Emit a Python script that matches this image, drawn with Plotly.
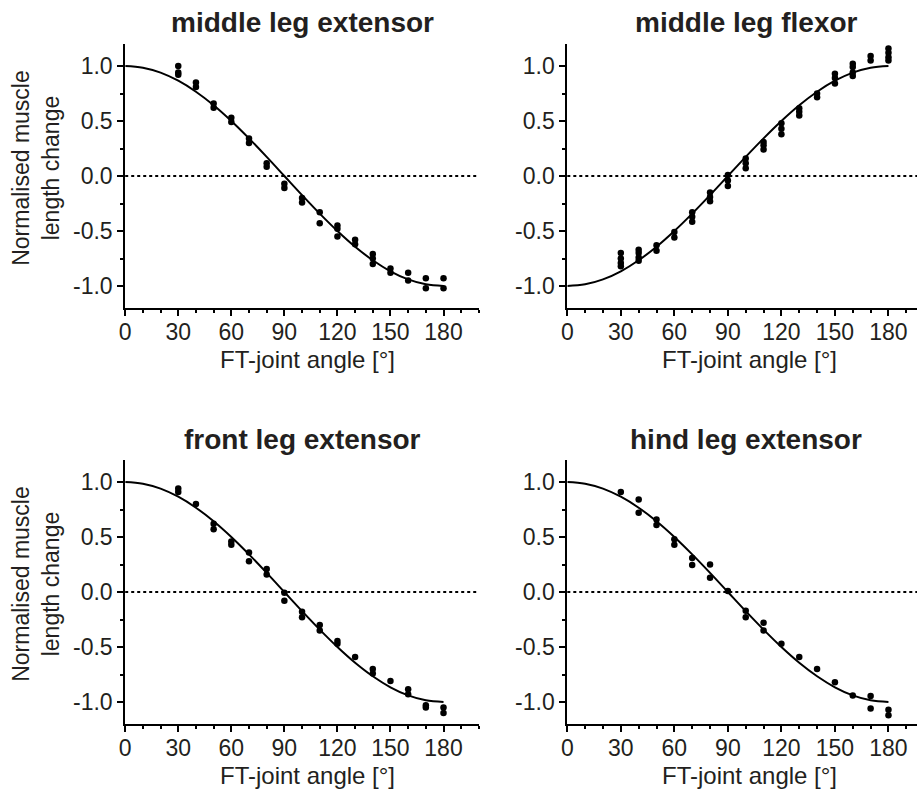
import plotly.graph_objects as go

# ---------------- data ----------------
fit_angles = [0, 10, 20, 30, 40, 50, 60, 70, 80, 90, 100, 110, 120, 130, 140, 150, 160, 170, 180]
fit_extensor = [1.0, 0.985, 0.94, 0.866, 0.766, 0.643, 0.5, 0.342, 0.174, 0.0,
                -0.174, -0.342, -0.5, -0.643, -0.766, -0.866, -0.94, -0.985, -1.0]
fit_flexor = [-1.0, -0.985, -0.94, -0.866, -0.766, -0.643, -0.5, -0.342, -0.174, 0.0,
              0.174, 0.342, 0.5, 0.643, 0.766, 0.866, 0.94, 0.985, 1.0]

mid_ext_x = [30, 30, 30, 40, 40, 50, 50, 60, 60, 70, 70, 80, 80, 90, 90, 100, 100, 110, 110,
             120, 120, 120, 130, 130, 140, 140, 140, 150, 150, 160, 160, 170, 170, 180, 180]
mid_ext_y = [1.00, 0.94, 0.92, 0.85, 0.81, 0.66, 0.62, 0.53, 0.49, 0.34, 0.30, 0.115, 0.085,
             -0.07, -0.11, -0.20, -0.24, -0.33, -0.43, -0.45, -0.48, -0.55, -0.58, -0.62,
             -0.71, -0.75, -0.80, -0.84, -0.88, -0.88, -0.95, -0.93, -1.02, -0.93, -1.02]

mid_flx_x = [30, 30, 30, 30, 40, 40, 40, 40, 50, 50, 60, 60, 70, 70, 70, 80, 80, 80, 90, 90, 90,
             100, 100, 100, 110, 110, 110, 120, 120, 120, 130, 130, 130, 140, 140,
             150, 150, 150, 160, 160, 160, 160, 170, 170, 180, 180, 180, 180]
mid_flx_y = [-0.70, -0.75, -0.79, -0.82, -0.67, -0.70, -0.74, -0.77, -0.63, -0.68, -0.51, -0.56,
             -0.33, -0.37, -0.415, -0.15, -0.19, -0.23, 0.01, -0.04, -0.09,
             0.16, 0.115, 0.07, 0.31, 0.28, 0.24, 0.48, 0.43, 0.38, 0.615, 0.585, 0.55, 0.75, 0.715,
             0.93, 0.89, 0.84, 1.02, 0.99, 0.94, 0.91, 1.09, 1.05, 1.16, 1.12, 1.08, 1.05]

front_ext_x = [30, 30, 40, 50, 50, 60, 60, 70, 70, 80, 80, 90, 90, 100, 100, 110, 110, 120, 120,
               130, 140, 140, 150, 160, 160, 170, 170, 180, 180]
front_ext_y = [0.94, 0.91, 0.80, 0.62, 0.57, 0.46, 0.43, 0.36, 0.28, 0.21, 0.16, -0.006, -0.08,
               -0.18, -0.23, -0.30, -0.35, -0.445, -0.47, -0.59, -0.70, -0.74, -0.81, -0.885, -0.93,
               -1.03, -1.05, -1.05, -1.10]

hind_ext_x = [30, 40, 40, 50, 50, 60, 60, 70, 70, 80, 80, 90, 100, 100, 110, 110, 120, 130, 140,
              150, 160, 170, 170, 180, 180]
hind_ext_y = [0.91, 0.84, 0.72, 0.66, 0.61, 0.48, 0.43, 0.31, 0.245, 0.25, 0.13, 0.01, -0.17, -0.23,
              -0.28, -0.35, -0.47, -0.59, -0.70, -0.82, -0.94, -0.945, -1.06, -1.07, -1.12]

panel_titles = ["middle leg extensor", "middle leg flexor", "front leg extensor", "hind leg extensor"]
x_tick_vals = [0, 30, 60, 90, 120, 150, 180]
x_tick_text = ["0", "30", "60", "90", "120", "150", "180"]
y_tick_vals = [1.0, 0.5, 0.0, -0.5, -1.0]
y_tick_text = ["1.0", "0.5", "0.0", "-0.5", "-1.0"]
x_title = "FT-joint angle [°]"
y_title = "Normalised muscle<br>length change"

# ---------------- layout helpers ----------------
W, H = 917, 789
FONT = "Liberation Sans, Arial, sans-serif"
TXT = "#231f20"

def px_x(p):
    return p / W

def px_y(p):
    return 1 - p / H

panels = [
    dict(x=mid_ext_x, y=mid_ext_y, fit=fit_extensor, xd=[120, 476], yd=[44, 308], xmax=200),
    dict(x=mid_flx_x, y=mid_flx_y, fit=fit_flexor, xd=[565, 917], yd=[44, 308], xmax=196),
    dict(x=front_ext_x, y=front_ext_y, fit=fit_extensor, xd=[120, 476], yd=[460, 724], xmax=200),
    dict(x=hind_ext_x, y=hind_ext_y, fit=fit_extensor, xd=[565, 917], yd=[460, 724], xmax=196),
]

fig = go.Figure()
layout = dict(
    width=W, height=H, margin=dict(l=0, r=0, t=0, b=0),
    paper_bgcolor="white", plot_bgcolor="white", showlegend=False,
    font=dict(family=FONT, color=TXT, size=23),
    shapes=[], annotations=[],
)

for i, p in enumerate(panels):
    n = "" if i == 0 else str(i + 1)
    xa, ya = "x" + n, "y" + n
    fig.add_trace(go.Scatter(x=fit_angles, y=p["fit"], mode="lines", line=dict(color="black", width=2, shape="spline"),
                             xaxis=xa, yaxis=ya, hoverinfo="skip"))
    fig.add_trace(go.Scatter(x=p["x"], y=p["y"], mode="markers", marker=dict(color="black", size=6.5),
                             xaxis=xa, yaxis=ya, cliponaxis=False))
    layout["xaxis" + n] = dict(
        domain=[px_x(p["xd"][0]), px_x(p["xd"][1])], range=[0, p["xmax"]], anchor=ya,
        showgrid=False, zeroline=False, showline=True, linecolor="black", linewidth=2,
        ticks="outside", ticklen=6, tickwidth=2, tickcolor="black",
        tickmode="array", tickvals=x_tick_vals, ticktext=x_tick_text,
        tickfont=dict(size=23, color=TXT, family=FONT), ticklabelstandoff=-4,
        minor=dict(ticks="outside", ticklen=3, tickwidth=2, tickcolor="black",
                   tickmode="array", tickvals=[10, 20, 40, 50, 70, 80, 100, 110, 130, 140, 160, 170, 190, 200]),
        fixedrange=True,
    )
    layout["yaxis" + n] = dict(
        domain=[px_y(p["yd"][1]), px_y(p["yd"][0])], range=[-1.2, 1.2], anchor=xa,
        showgrid=False, zeroline=False, showline=True, linecolor="black", linewidth=2,
        ticks="outside", ticklen=6, tickwidth=2, tickcolor="black",
        tickmode="array", tickvals=y_tick_vals, ticktext=y_tick_text,
        tickfont=dict(size=23, color=TXT, family=FONT),
        minor=dict(ticks="outside", ticklen=3, tickwidth=2, tickcolor="black",
                   tickmode="array", tickvals=[0.75, 0.25, -0.25, -0.75]),
        fixedrange=True,
    )
    layout["shapes"].append(dict(type="line", xref=xa + " domain", yref=ya, x0=0, x1=1, y0=0, y1=0,
                                 line=dict(color="black", width=2, dash="dot"), layer="below"))
    cx = (p["xd"][0] + p["xd"][1] + (0 if p["xmax"] == 200 else 8)) / 2
    layout["annotations"].append(dict(text="<b>" + panel_titles[i] + "</b>", xref="paper", yref="paper",
                                      x=px_x(cx), y=px_y(p["yd"][0] - 21), xanchor="center", yanchor="middle",
                                      showarrow=False, font=dict(size=28, color=TXT, family=FONT)))
    layout["annotations"].append(dict(text=x_title, xref="paper", yref="paper",
                                      x=px_x(p["xd"][0] + 183), y=px_y(p["yd"][1] + 51), xanchor="center", yanchor="middle",
                                      showarrow=False, font=dict(size=24, color=TXT, family=FONT)))
    if p["xd"][0] == 120:
        layout["annotations"].append(dict(text=y_title, xref="paper", yref="paper", textangle=-90,
                                          x=px_x(30), y=px_y(p["yd"][0] + 124), xanchor="center", yanchor="middle",
                                          showarrow=False, font=dict(size=23, color=TXT, family=FONT)))

fig.update_layout(**layout)
fig.write_html("out.html")
